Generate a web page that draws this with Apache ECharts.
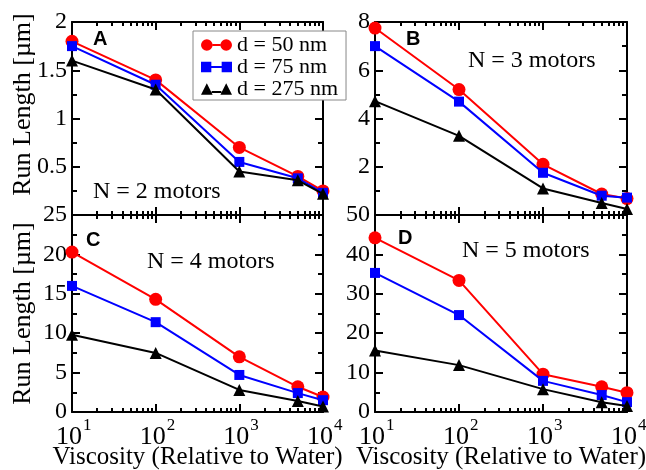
<!DOCTYPE html>
<html>
<head>
<meta charset="utf-8">
<script src="https://cdn.jsdelivr.net/npm/echarts@6/dist/echarts.min.js"></script>
<style>html,body{margin:0;padding:0;background:#fff;}#c{width:646px;height:470px;}</style>
</head>
<body>
<div id="c"></div>
<script>
// ---- data ----
const viscosity = [10, 100, 1000, 5000, 10000];
const seriesNames = ['d = 50 nm', 'd = 75 nm', 'd = 275 nm'];
const xTickLabels = [10, 100, 1000, 10000];
const xMinorTicks = [20,30,40,50,60,70,80,90,200,300,400,500,600,700,800,900,2000,3000,4000,5000,6000,7000,8000,9000];

// Panel A: N = 2 motors
const a_d50  = [1.80, 1.40, 0.70, 0.40, 0.25];
const a_d75  = [1.75, 1.35, 0.55, 0.38, 0.23];
const a_d275 = [1.60, 1.30, 0.45, 0.36, 0.22];
// Panel B: N = 3 motors
const b_d50  = [7.75, 5.20, 2.10, 0.87, 0.68];
const b_d75  = [7.00, 4.70, 1.75, 0.80, 0.72];
const b_d275 = [4.72, 3.28, 1.10, 0.50, 0.25];
// Panel C: N = 4 motors
const c_d50  = [20.3, 14.3, 7.0, 3.2, 1.9];
const c_d75  = [16.0, 11.4, 4.7, 2.4, 1.5];
const c_d275 = [9.8, 7.5, 2.8, 1.4, 0.7];
// Panel D: N = 5 motors
const d_d50  = [44.2, 33.4, 9.6, 6.4, 4.9];
const d_d75  = [35.3, 24.6, 7.9, 4.3, 2.5];
const d_d275 = [15.6, 11.9, 5.8, 2.5, 1.5];

const yTicksA = {min: 0, max: 2, interval: 0.5};
const yTicksB = {min: 0, max: 8, interval: 2};
const yTicksC = {min: 0, max: 25, interval: 5};
const yTicksD = {min: 0, max: 50, interval: 10};

const panelLetters = ['A', 'B', 'C', 'D'];
const panelTexts = ['N = 2 motors', 'N = 3 motors', 'N = 4 motors', 'N = 5 motors'];

// ---- chart ----
const SERIF = 'Liberation Serif, Times New Roman, serif';
const colors = ['#ff0000', '#0000ff', '#000000'];
const symbols = ['circle', 'rect', 'triangle'];
const symSizes = [13, 10, 12];

const panels = [
  {data: [a_d50, a_d75, a_d275], y: yTicksA, grid: {left: 72, top: 22, width: 251, height: 193}, showX: false, showYName: true, hideMin: true},
  {data: [b_d50, b_d75, b_d275], y: yTicksB, grid: {left: 375, top: 22, width: 252, height: 193}, showX: false, showYName: false, hideMin: true},
  {data: [c_d50, c_d75, c_d275], y: yTicksC, grid: {left: 72, top: 215, width: 251, height: 197}, showX: true, showYName: true, hideMin: false},
  {data: [d_d50, d_d75, d_d275], y: yTicksD, grid: {left: 375, top: 215, width: 252, height: 197}, showX: true, showYName: false, hideMin: false}
];

const axisLine = {show: true, lineStyle: {color: '#000', width: 2}};
const grids = [], xAxes = [], yAxes = [], series = [];

panels.forEach((p, i) => {
  grids.push(Object.assign({outerBoundsMode: 'none', containLabel: false}, p.grid));
  const mainX = xAxes.length;
  const baseX = {gridIndex: i, type: 'log', logBase: 10, min: 10, max: 10000, splitNumber: 3, splitLine: {show: false}, minorSplitLine: {show: false}};
  // bottom: major ticks + base "10" labels + axis title
  xAxes.push(Object.assign({}, baseX, {
    position: 'bottom', axisLine: axisLine,
    axisTick: {show: true, inside: true, length: 8, lineStyle: {width: 2, color: '#000'}, customValues: xTickLabels},
    axisLabel: {show: p.showX, margin: 12, customValues: xTickLabels, fontFamily: SERIF, fontSize: 26, color: '#000',
      padding: [0, 6, 0, 0], formatter: () => '10'},
    name: p.showX ? 'Viscosity (Relative to Water)' : '', nameLocation: 'middle', nameGap: 33, nameMoveOverlap: false,
    nameTextStyle: {fontFamily: SERIF, fontSize: 25, color: '#000'}
  }));
  // bottom: minor ticks + exponent labels
  xAxes.push(Object.assign({}, baseX, {position: 'bottom', axisLine: {show: false},
    axisTick: {show: true, inside: true, length: 4, lineStyle: {width: 2, color: '#000'}, customValues: xMinorTicks},
    axisLabel: {show: p.showX, margin: 5, customValues: xTickLabels, fontFamily: SERIF, fontSize: 17, color: '#000',
      align: 'left', padding: [0, 0, 0, 11], formatter: v => String(Math.round(Math.log10(v)))}}));
  // top mirror
  xAxes.push(Object.assign({}, baseX, {position: 'top', axisLine: axisLine,
    axisTick: {show: true, inside: true, length: 8, lineStyle: {width: 2, color: '#000'}, customValues: xTickLabels}, axisLabel: {show: false}}));
  xAxes.push(Object.assign({}, baseX, {position: 'top', axisLine: {show: false},
    axisTick: {show: true, inside: true, length: 4, lineStyle: {width: 2, color: '#000'}, customValues: xMinorTicks}, axisLabel: {show: false}}));

  const mainY = yAxes.length;
  const baseY = {gridIndex: i, type: 'value', min: p.y.min, max: p.y.max, interval: p.y.interval,
    splitLine: {show: false}, minorSplitLine: {show: false}, axisLine: axisLine,
    axisTick: {show: true, inside: true, length: 8, lineStyle: {width: 2, color: '#000'}},
    minorTick: {show: true, splitNumber: 2, length: 5, lineStyle: {width: 2, color: '#000'}}};
  yAxes.push(Object.assign({}, baseY, {position: 'left',
    axisLabel: {show: true, margin: 5, fontFamily: SERIF, fontSize: 24, color: '#000', showMinLabel: !p.hideMin},
    name: p.showYName ? 'Run Length [µm]' : '', nameLocation: 'middle', nameGap: 36, nameMoveOverlap: false,
    nameTextStyle: {fontFamily: SERIF, fontSize: 26, color: '#000', padding: i === 0 ? [0, 0, 0, 28] : 0}}));
  yAxes.push(Object.assign({}, baseY, {position: 'right', axisLabel: {show: false}}));

  p.data.forEach((vals, k) => {
    series.push({
      type: 'line', name: seriesNames[k], xAxisIndex: mainX, yAxisIndex: mainY,
      data: viscosity.map((x, j) => [x, vals[j]]),
      symbol: symbols[k], symbolSize: symSizes[k], clip: false,
      lineStyle: {color: colors[k], width: 2},
      itemStyle: {color: colors[k], borderWidth: 0},
      emphasis: {disabled: true}, animation: false, z: 3 + k
    });
  });
});

const iconCircle = 'path://M0,6a6,6 0 1,0 12,0a6,6 0 1,0 -12,0ZM20,6a6,6 0 1,0 12,0a6,6 0 1,0 -12,0ZM12,5h8v2h-8Z';
const iconSquare = 'path://M1,1h10v10h-10ZM21,1h10v10h-10ZM11,5h10v2h-10Z';
const iconTri = 'path://M0,12L6,0L12,12ZM20,12L26,0L32,12ZM11,8h10v2h-10Z';

const graphics = [];
const letterPos = [[93, 29], [406, 29], [86, 230], [398, 228]];
const textPos = [[93, 180], [468, 49], [147, 250], [462, 239]];
panelLetters.forEach((t, i) => {
  graphics.push({type: 'text', left: letterPos[i][0], top: letterPos[i][1], z: 10,
    style: {text: t, font: 'bold 20px Liberation Sans, Arial, sans-serif', fill: '#000'}});
  graphics.push({type: 'text', left: textPos[i][0], top: textPos[i][1], z: 10,
    style: {text: panelTexts[i], font: '24px ' + SERIF, fill: '#000'}});
});

const chart = echarts.init(document.getElementById('c'), null, {renderer: 'canvas'});
chart.setOption({
  backgroundColor: '#fff',
  animation: false,
  grid: grids,
  xAxis: xAxes,
  yAxis: yAxes,
  series: series,
  graphic: graphics,
  legend: {
    orient: 'vertical', left: 193, top: 31, padding: [3, 8, 0, 8], itemGap: 0,
    itemWidth: 31, itemHeight: 12,
    backgroundColor: '#fff', borderColor: '#888', borderWidth: 1, z: 20,
    selectedMode: false,
    textStyle: {fontFamily: SERIF, fontSize: 22, lineHeight: 19, color: '#000'},
    itemStyle: {borderWidth: 0},
    data: [
      {name: seriesNames[0], icon: iconCircle},
      {name: seriesNames[1], icon: iconSquare},
      {name: seriesNames[2], icon: iconTri}
    ]
  }
});
</script>
</body>
</html>
